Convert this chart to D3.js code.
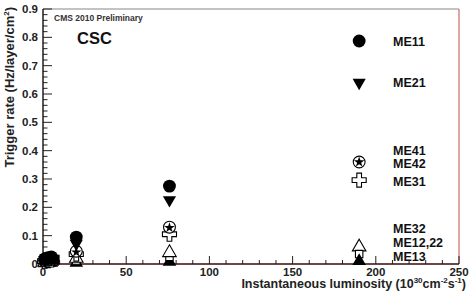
<!DOCTYPE html>
<html><head><meta charset="utf-8">
<script src="https://cdn.jsdelivr.net/npm/d3@7"></script>
<style>body{margin:0;background:#fff}svg{display:block}text{font-family:"Liberation Sans",Arial,sans-serif}</style>
</head><body>
<script>
const xValues = [1, 3, 5, 20, 76];
const me11 = [0.018, 0.022, 0.025, 0.095, 0.275];
const me21 = [0.014, 0.018, 0.02, 0.072, 0.226];
const me41 = [0.012, 0.014, 0.016, 0.045, 0.13];
const me42 = [0.011, 0.013, 0.015, 0.042, 0.128];
const me31 = [0.01, 0.012, 0.014, 0.035, 0.105];
const me32 = [0.006, 0.008, 0.01, 0.02, 0.04];
const me1222 = [0.004, 0.005, 0.006, 0.012, 0.025];
const me13 = [0.002, 0.003, 0.004, 0.004, 0.008];
const legendX = 190;
const legendNames = ["ME11", "ME21", "ME41", "ME42", "ME31", "ME32", "ME12,22", "ME13"];
const legendMarkerY = [0.787, 0.64, 0.36, 0.36, 0.296, 0.06, 0.035, 0.01];
const legendLabelY = [0.787, 0.64, 0.402, 0.355, 0.29, 0.125, 0.076, 0.027];
const xTicks = [0, 50, 100, 150, 200, 250];
const yTicks = [0, 0.1, 0.2, 0.3, 0.4, 0.5, 0.6, 0.7, 0.8, 0.9];
const blobX = [1, 3, 5, 7];
const blobY = [0.012, 0.018, 0.02, 0.015];

const W = 470, H = 294;
const svg = d3.select("body").append("svg").attr("width", W).attr("height", H);
const x = d3.scaleLinear().domain([0, 250]).range([43, 459]);
const y = d3.scaleLinear().domain([0, 0.9]).range([264, 9]);

// frame
svg.append("line").attr("x1", x(0)).attr("x2", x(250)).attr("y1", y(0.9)).attr("y2", y(0.9)).attr("stroke", "#888").attr("stroke-width", 1.2);
svg.append("line").attr("x1", x(250)).attr("x2", x(250)).attr("y1", y(0.9)).attr("y2", y(0)).attr("stroke", "#c86a6a").attr("stroke-width", 1.2);

// axes with inward ticks
const xMinor = d3.range(0, 251, 10);
const gx = svg.append("g").attr("transform", `translate(0,${y(0)})`);
gx.selectAll("line.t").data(xMinor).join("line")
  .attr("x1", d => x(d)).attr("x2", d => x(d)).attr("y1", 0)
  .attr("y2", d => d % 50 === 0 ? -8 : -4).attr("stroke", "#222").attr("stroke-width", 1);
gx.append("line").attr("x1", x(0)).attr("x2", x(250)).attr("stroke", "#3a0a0a").attr("stroke-width", 1.4);
gx.selectAll("text").data(xTicks).join("text")
  .attr("x", d => x(d)).attr("y", 11.5).attr("text-anchor", "middle")
  .attr("font-size", 11.5).attr("font-weight", "bold").attr("fill", "#222").text(d => d);

const yMinor = d3.range(0, 46).map(i => i * 0.02);
const gy = svg.append("g").attr("transform", `translate(${x(0)},0)`);
gy.selectAll("line.t").data(yMinor).join("line")
  .attr("y1", d => y(d)).attr("y2", d => y(d)).attr("x1", 0)
  .attr("x2", (d, i) => i % 5 === 0 ? 9 : 4.5).attr("stroke", "#222").attr("stroke-width", 1);
gy.append("line").attr("y1", y(0)).attr("y2", y(0.9)).attr("stroke", "#111").attr("stroke-width", 1.4);
gy.selectAll("text").data(yTicks).join("text")
  .attr("x", -5).attr("y", d => y(d) + 4).attr("text-anchor", "end")
  .attr("font-size", 11.5).attr("font-weight", "bold").attr("fill", "#222")
  .text(d => d === 0 ? "0" : d3.format(".1f")(d));

// axis titles
svg.append("text").attr("transform", "translate(14,7) rotate(-90)").attr("text-anchor", "end")
  .attr("font-size", 13).attr("font-weight", "bold").attr("fill", "#222")
  .html('Trigger rate (Hz/layer/cm<tspan dy="-5" font-size="8">2</tspan><tspan dy="5">)</tspan>');
svg.append("text").attr("x", 466).attr("y", 288).attr("text-anchor", "end")
  .attr("font-size", 12.5).attr("font-weight", "bold").attr("fill", "#222")
  .html('Instantaneous luminosity (10<tspan dy="-5" font-size="8">30</tspan><tspan dy="5">cm</tspan><tspan dy="-5" font-size="8">-2</tspan><tspan dy="5">s</tspan><tspan dy="-5" font-size="8">-1</tspan><tspan dy="5">)</tspan>');

svg.append("text").attr("x", 54).attr("y", 21).attr("font-size", 8.5).attr("font-weight", "bold").attr("fill", "#333").text("CMS 2010 Preliminary");
svg.append("text").attr("x", 77).attr("y", 44).attr("font-size", 16.5).attr("font-weight", "bold").attr("fill", "#111").text("CSC");

// markers
const styles = [
  {type: d3.symbolCircle, size: 130, fill: "#000", stroke: "none", rot: 0},
  {type: d3.symbolTriangle, size: 75, fill: "#000", stroke: "none", rot: 180},
  {type: d3.symbolCircle, size: 110, fill: "#fff", stroke: "#000", rot: 0},
  {type: d3.symbolStar, size: 35, fill: "#000", stroke: "none", rot: 0},
  {type: d3.symbolCross, size: 110, fill: "#fff", stroke: "#000", rot: 0},
  {type: d3.symbolTriangle, size: 80, fill: "#fff", stroke: "#000", rot: 0},
  {type: d3.symbolSquare, size: 55, fill: "#fff", stroke: "#000", rot: 0},
  {type: d3.symbolTriangle, size: 80, fill: "#000", stroke: "none", rot: 0}
];
const series = [me11, me21, me41, me42, me31, me32, me1222, me13];
const order = [7, 6, 5, 4, 2, 3, 1, 0];
function drawMarker(g, s, cx, cy) {
  g.append("path").attr("d", d3.symbol().type(s.type).size(s.size))
    .attr("transform", `translate(${cx},${cy}) rotate(${s.rot})`)
    .attr("fill", s.fill).attr("stroke", s.stroke).attr("stroke-width", 1.1);
}
const gp = svg.append("g");
order.forEach(k => {
  series[k].forEach((v, i) => drawMarker(gp, styles[k], x(xValues[i]), y(v)));
});
// filled block of overlapping markers near origin
blobX.forEach((bx, i) => gp.append("path").attr("d", d3.symbol().type(d3.symbolSquare).size(100))
  .attr("transform", `translate(${x(bx)},${y(blobY[i])})`).attr("fill", "#000"));

// legend
const gl = svg.append("g");
legendNames.forEach((n, k) => {
  drawMarker(gl, styles[k], x(legendX), y(legendMarkerY[k]));
  gl.append("text").attr("x", 393).attr("y", y(legendLabelY[k]) + 4.5)
    .attr("font-size", 12.5).attr("font-weight", "bold").attr("fill", "#111").text(n);
});
</script>
</body></html>
